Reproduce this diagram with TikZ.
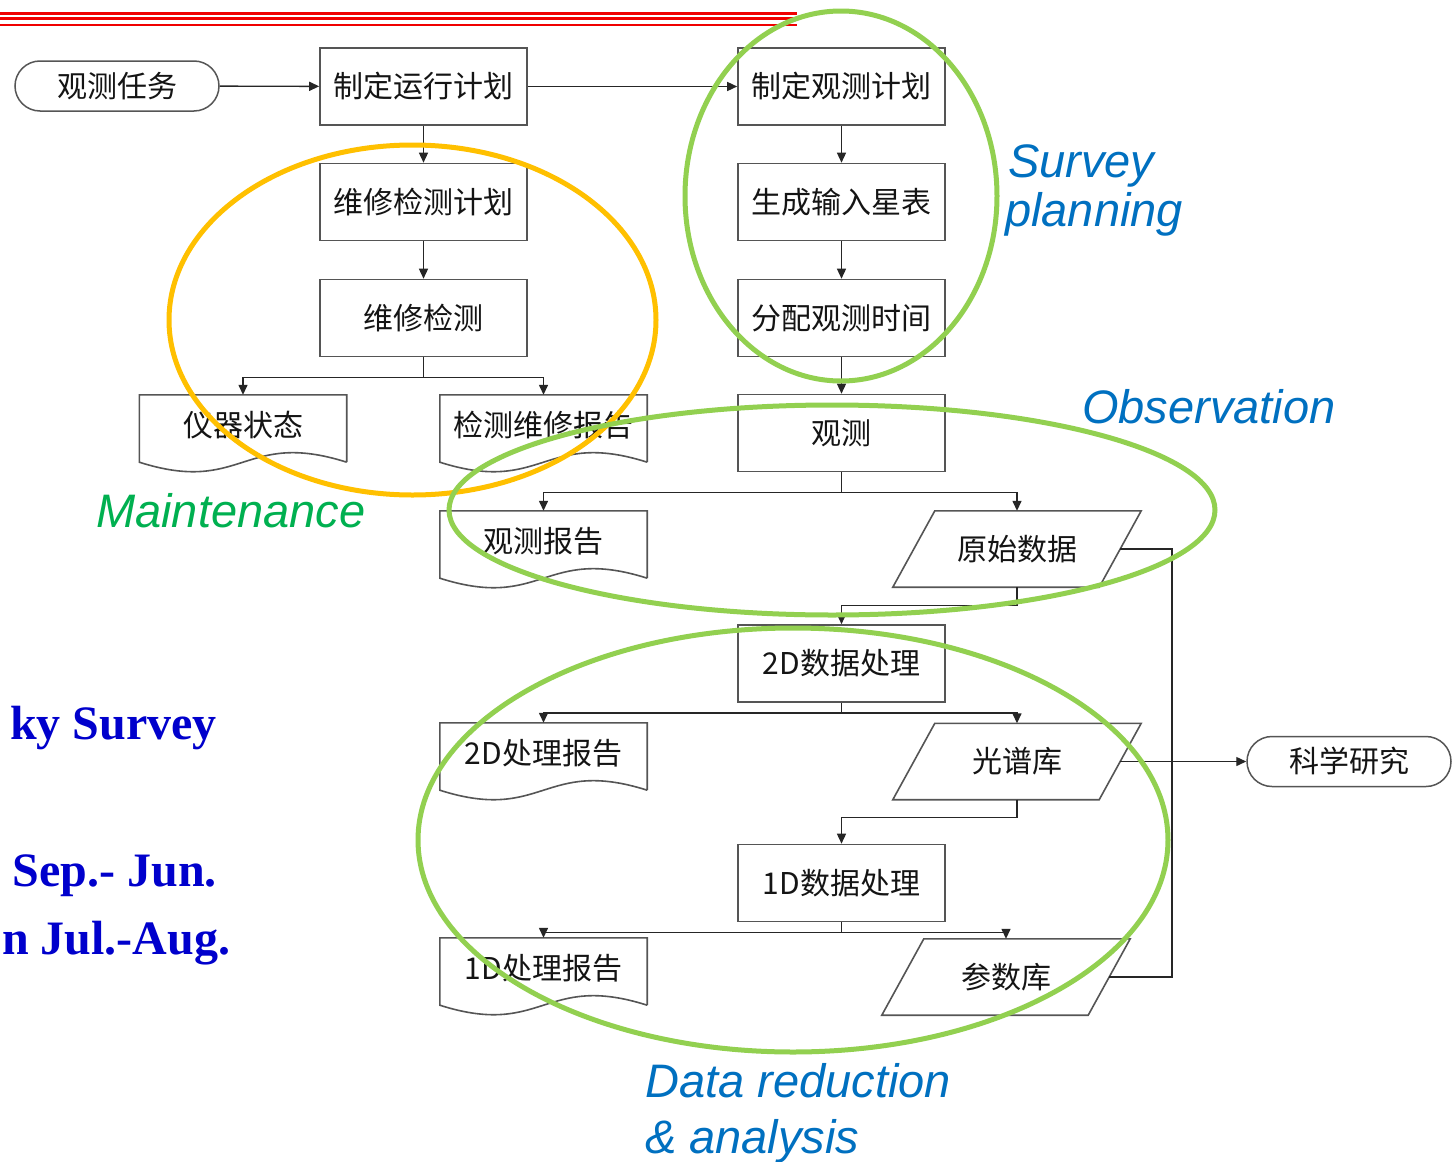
\documentclass[tikz,border=0pt]{standalone}
\usepackage{fontspec}
\setmainfont{Liberation Sans}
\newfontfamily\cjk{Noto Sans CJK SC}
\newfontfamily\serifb{Liberation Serif}
\usetikzlibrary{arrows.meta,calc,shapes.misc}
\definecolor{boxline}{RGB}{85,85,85}
\definecolor{txt}{RGB}{20,20,20}
\definecolor{orangec}{RGB}{255,192,0}
\definecolor{greenc}{RGB}{146,208,80}
\definecolor{labblue}{RGB}{0,112,192}
\definecolor{labgreen}{RGB}{0,176,80}
\definecolor{darkblue}{RGB}{0,0,204}
\definecolor{redline}{RGB}{240,0,0}
\tikzset{
  cjkfont/.style={font=\cjk\fontsize{30}{34}\selectfont, text=txt},
  box/.style={cjkfont, draw=boxline, line width=1.6pt, minimum width=207pt, minimum height=77pt, inner sep=0pt},
  term/.style={cjkfont, draw=boxline, line width=1.5pt, rounded rectangle, minimum width=204pt, minimum height=50pt, inner sep=0pt},
  docnode/.style={cjkfont, minimum width=207pt, minimum height=60pt, inner sep=0pt},
  paranode/.style={cjkfont, minimum width=206pt, minimum height=76pt, inner sep=0pt},
  outline/.style={draw=boxline, line width=1.6pt},
  conn/.style={draw=black!85, line width=1.4pt},
  arr/.style={conn, -{Triangle[length=10pt,width=9pt]}},
  ring/.style={line width=5pt},
  lab/.style={font=\itshape\fontsize{47}{50}\selectfont, anchor=base west, inner sep=0pt},
  leftlab/.style={font=\serifb\bfseries\fontsize{48}{52}\selectfont, text=darkblue, anchor=base east, inner sep=0pt}
}
\newcommand\mydoc[1]{\draw[outline] ($(#1.south east)+(0,7)$) -- (#1.north east) -- (#1.north west) -- ($(#1.south west)+(0,7)$) .. controls ($(#1.south)+(0,40)$) and ($(#1.south)+(0,-26)$) .. ($(#1.south east)+(0,7)$);}
\newcommand\mypara[1]{\draw[outline] ($(#1.north west)+(21,0)$) -- ($(#1.north east)+(21,0)$) -- ($(#1.south east)+(-21,0)$) -- ($(#1.south west)+(-21,0)$) -- cycle;}
\begin{document}
\begin{tikzpicture}[x=1pt,y=-1pt]
\useasboundingbox[fill=white] (0,0) rectangle (1452,1162);
% red header lines
\draw[redline, line width=3.4pt] (0,13.5) -- (797,13.5);
\draw[redline, line width=2.6pt] (0,18.5) -- (797,18.5);
\draw[redline, line width=2.6pt] (0,24.8) -- (797,24.8);

% nodes
\node[term] (task) at (117,86) {观测任务};
\node[box] (runplan) at (423.5,86.5) {制定运行计划};
\node[box] (mplan) at (423.5,202) {维修检测计划};
\node[box] (maint) at (423.5,318) {维修检测};
\node[docnode] (state) at (243,425) {仪器状态};
\node[docnode] (mrep) at (543.5,425) {检测维修报告};
\node[box] (obsplan) at (841.5,86.5) {制定观测计划};
\node[box] (cat) at (841.5,202) {生成输入星表};
\node[box] (alloc) at (841.5,318) {分配观测时间};
\node[box] (obs) at (841.5,433) {观测};
\node[docnode] (orep) at (543.5,541) {观测报告};
\node[paranode] (raw) at (1017,549) {原始数据};
\node[box] (twod) at (841.5,663.5) {2D数据处理};
\node[docnode] (trep) at (543.5,753) {2D处理报告};
\node[paranode] (spec) at (1017,761.5) {光谱库};
\node[box] (oned) at (841.5,883) {1D数据处理};
\node[docnode] (orep1) at (543.5,968) {1D处理报告};
\node[paranode] (param) at (1006,977) {参数库};
\node[term] (sci) at (1349,761.5) {科学研究};

\mydoc{state}
\mydoc{mrep}
\mydoc{orep}
\mydoc{trep}
\mydoc{orep1}
\mypara{raw}
\mypara{spec}
\mypara{param}

% connectors
\draw[arr] (task) -- (runplan);
\draw[arr] (runplan) -- (obsplan);
\draw[arr] (runplan) -- (mplan);
\draw[arr] (mplan) -- (maint);
\draw[conn] (maint.south) -- ++(0,20) coordinate (s1);
\draw[arr] (s1) -| (state.north);
\draw[arr] (s1) -| (mrep.north);
\draw[arr] (obsplan) -- (cat);
\draw[arr] (cat) -- (alloc);
\draw[arr] (alloc) -- (obs);
\draw[conn] (obs.south) -- ++(0,20) coordinate (s2);
\draw[arr] (s2) -| (orep.north);
\draw[arr] (s2) -| (raw.north);
\draw[arr] (raw.south) -- ++(0,18) -| (twod.north);
\draw[conn] (twod.south) -- ++(0,10) coordinate (s3);
\draw[arr] (s3) -| (trep.north);
\draw[arr] (s3) -| (spec.north);
\draw[arr] (spec.south) -- ++(0,18) -| (oned.north);
\draw[conn] (oned.south) -- ++(0,10) coordinate (s4);
\draw[arr] (s4) -| (orep1.north);
\draw[arr] (s4) -| (param.north);
\draw[conn] (raw.east) -- (1172,549) coordinate (r1) |- (param.east);
\draw[arr] (spec.east) -- (sci.west);

% ellipses
\draw[ring, orangec] (412.5,320) ellipse [x radius=243.5pt, y radius=175pt];
\draw[ring, greenc] (841,196) ellipse [x radius=156pt, y radius=185pt];
\draw[ring, greenc] (832,510) ellipse [x radius=383pt, y radius=105pt];
\draw[ring, greenc] (793,840) ellipse [x radius=375pt, y radius=212pt];

% labels
\node[lab, text=labblue] (lsurvey) at (1008,177) {Survey};
\node[lab, text=labblue] (lplanning) at (1005,226) {planning};
\node[lab, text=labblue] (lobs) at (1082,423) {Observation};
\node[lab, text=labgreen] (lmaint) at (96,527) {Maintenance};
\node[lab, text=labblue] (ldata) at (645,1097) {Data reduction};
\node[lab, text=labblue] (lanal) at (645,1153) {\& analysis};

\node[leftlab] (sky) at (217,739) {ky Survey};
\node[leftlab] (sep) at (217,886) {Sep.- Jun.};
\node[leftlab, anchor=base west] (jul) at (2,954) {n Jul.-Aug.};
\end{tikzpicture}
\end{document}
